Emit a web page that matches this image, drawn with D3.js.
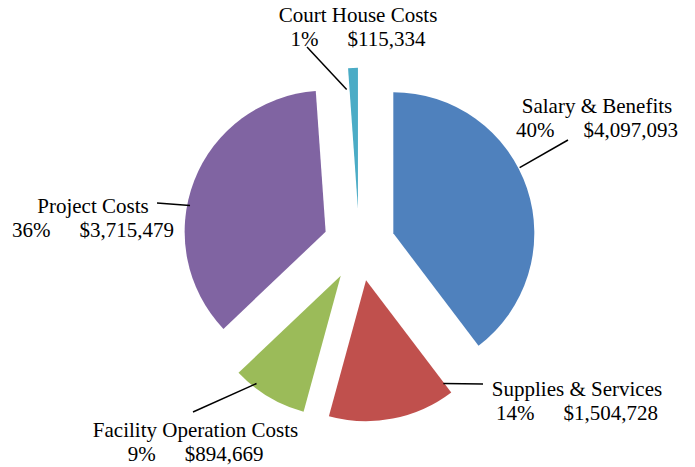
<!DOCTYPE html>
<html lang="en">
<head>
    <meta charset="UTF-8">
    <title>Cost Breakdown Pie</title>
    <script src="https://d3js.org/d3.v7.min.js"></script>
    <style>
        body { margin: 0; background: #fff; }
        .label text {
            font-family: "Liberation Serif", "Times New Roman", serif;
            font-size: 21px;
            fill: #000;
        }
        .leader {
            stroke: #000;
            stroke-width: 1.5;
        }
    </style>
</head>
<body>
    <div id="chart"></div>
    <script>
        // data
        const categories = ["Salary & Benefits", "Supplies & Services", "Facility Operation Costs", "Project Costs", "Court House Costs"];
        const amounts = [4097093, 1504728, 894669, 3715479, 115334];
        const percents = ["40%", "14%", "9%", "36%", "1%"];
        const valueLabels = ["$4,097,093", "$1,504,728", "$894,669", "$3,715,479", "$115,334"];

        // styling / layout
        const colors = ["#4f81bd", "#c0504d", "#9bbb59", "#8064a2", "#4bacc6"];
        const labelAt = [[597, 113], [577, 396], [195.5, 437], [93, 213], [358, 22]];
        const leaderLabelEnd = [[568, 140], [483, 384], [193, 412], [157, 203], [307, 47]];
        const leaderSlice = [[62.5, 1.01], [143.2, 0.915], [218, 0.97], [281, 0.98], [354.6, 0.85]]; // angle deg, radius factor

        const width = 695, height = 467;
        const cx = 359.2, cy = 244.8, radius = 141, explode = 36;
        const lineGap = 24, numberGap = 29;

        const svg = d3.select("#chart")
                      .append("svg")
                      .attr("width", width)
                      .attr("height", height);

        const data = categories.map((c, i) => ({ name: c, value: amounts[i], i: i }));

        const pie = d3.pie().sort(null).value(d => d.value);
        const arc = d3.arc().innerRadius(0).outerRadius(radius);
        const arcs = pie(data);

        const offset = a => {
            const mid = (a.startAngle + a.endAngle) / 2;
            return [Math.sin(mid) * explode, -Math.cos(mid) * explode];
        };

        const g = svg.append("g").attr("transform", `translate(${cx},${cy})`);

        g.selectAll("path.slice")
         .data(arcs)
         .join("path")
         .attr("class", "slice")
         .attr("d", arc)
         .attr("fill", d => colors[d.data.i])
         .attr("transform", d => `translate(${offset(d)})`);

        // leader lines
        svg.selectAll("line.leader")
           .data(arcs)
           .join("line")
           .attr("class", "leader")
           .attr("x1", d => {
               const [ox] = offset(d);
               const [deg, k] = leaderSlice[d.data.i];
               return cx + ox + Math.sin(deg * Math.PI / 180) * radius * k;
           })
           .attr("y1", d => {
               const [, oy] = offset(d);
               const [deg, k] = leaderSlice[d.data.i];
               return cy + oy - Math.cos(deg * Math.PI / 180) * radius * k;
           })
           .attr("x2", d => leaderLabelEnd[d.data.i][0])
           .attr("y2", d => leaderLabelEnd[d.data.i][1]);

        // labels
        const labels = svg.selectAll("g.label")
           .data(arcs)
           .join("g")
           .attr("class", "label")
           .attr("transform", d => `translate(${labelAt[d.data.i]})`);

        labels.append("text")
              .attr("text-anchor", "middle")
              .text(d => d.data.name);

        const second = labels.append("text")
              .attr("text-anchor", "middle")
              .attr("y", lineGap);
        second.append("tspan").text(d => percents[d.data.i]);
        second.append("tspan").attr("dx", numberGap).text(d => valueLabels[d.data.i]);
    </script>
</body>
</html>
